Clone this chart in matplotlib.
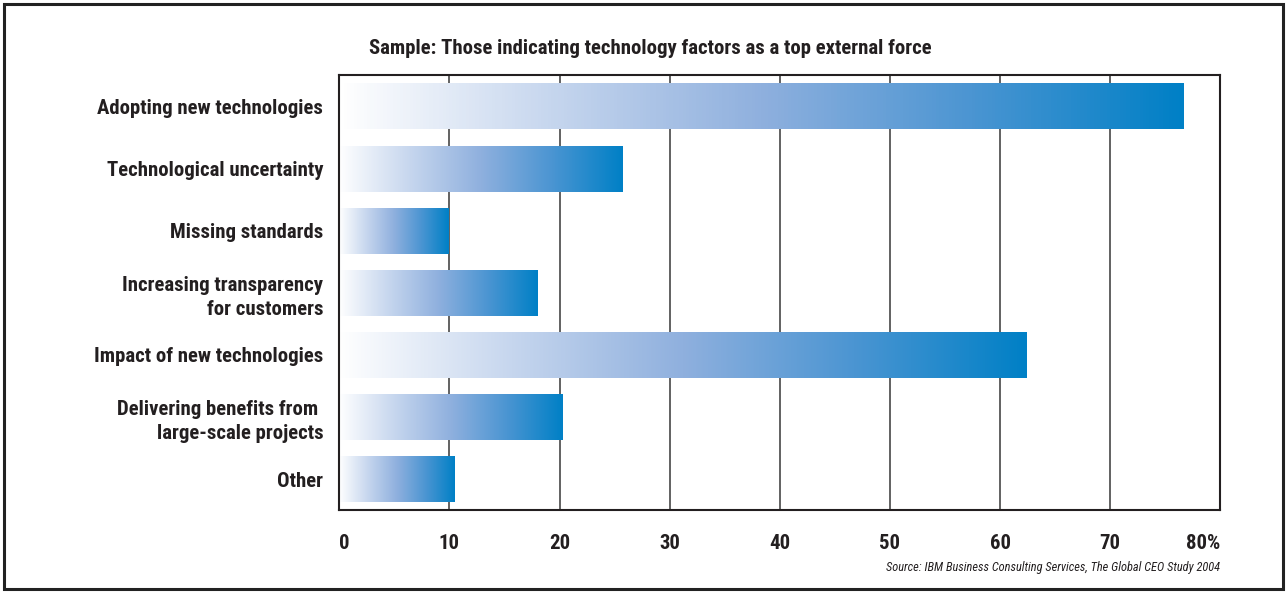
import matplotlib
matplotlib.use("Agg")
import matplotlib.pyplot as plt
import numpy as np
from matplotlib import font_manager
from matplotlib.font_manager import FontProperties
from matplotlib.colors import LinearSegmentedColormap
from matplotlib.patches import Rectangle

categories = [
    "Adopting new technologies",
    "Technological uncertainty",
    "Missing standards",
    "Increasing transparency\nfor customers",
    "Impact of new technologies",
    "Delivering benefits from \nlarge-scale projects",
    "Other",
]
values = [76.7, 25.7, 9.9, 18.0, 62.4, 20.3, 10.5]
x_ticks = [0, 10, 20, 30, 40, 50, 60, 70, 80]
x_tick_labels = ["0", "10", "20", "30", "40", "50", "60", "70", "80%"]
title = "Sample: Those indicating technology factors as a top external force"
source = "Source: IBM Business Consulting Services, The Global CEO Study 2004"


def pick_font(want_bold, want_italic):
    """Prefer a narrow/condensed sans face; fall back to Liberation Sans."""
    best = None
    for f in font_manager.fontManager.ttflist:
        name = f.name
        path = f.fname.lower()
        narrow = ("narrow" in name.lower() or "condensed" in name.lower()
                  or "condensed" in str(f.stretch) or "narrow" in path or "condensed" in path)
        if not narrow:
            continue
        if "semi" in path or "extra" in path or "ultra" in path:
            continue
        is_bold = (f.weight in ("bold", 700) or (isinstance(f.weight, int) and f.weight == 700))
        is_italic = f.style in ("italic", "oblique")
        if is_bold != want_bold or is_italic != want_italic:
            continue
        rank = 0 if "Liberation" in name else (1 if "Roboto" in name else (2 if "DejaVu" in name else 3))
        if best is None or rank < best[0]:
            best = (rank, f.fname)
    if best:
        return FontProperties(fname=best[1])
    return FontProperties(family="Liberation Sans",
                          weight="bold" if want_bold else "normal",
                          style="italic" if want_italic else "normal")


bold_fp = pick_font(True, False)
ital_fp = pick_font(False, True)

W, H = 1287, 592
fig = plt.figure(figsize=(W / 100, H / 100), dpi=100)
fig.patch.set_facecolor("white")
renderer = fig.canvas.get_renderer()


def fit_size(fp, text, target_px):
    p = fp.copy()
    p.set_size(10)
    t = fig.text(0, 0, text, fontproperties=p)
    w = t.get_window_extent(renderer).width
    t.remove()
    return 10 * target_px / w


label_size = fit_size(bold_fp, "Adopting new technologies", 226)
src_size = fit_size(ital_fp, source, 335)
bfp = bold_fp.copy(); bfp.set_size(label_size)
ifp = ital_fp.copy(); ifp.set_size(src_size)

# outer frame
fig.patches.append(Rectangle((4 / W, 3 / H), 1279 / W, 585 / H, transform=fig.transFigure,
                             fill=False, edgecolor="#222222", linewidth=2.2))

ax = fig.add_axes([339.3 / W, 1 - 510.3 / H, 881 / W, 435 / H])

cmap = LinearSegmentedColormap.from_list(
    "bar_blue",
    [(0.0, "#ffffff"), (0.25, "#c6d6ee"), (0.5, "#8fb0de"), (0.75, "#4b95d2"), (1.0, "#0080c6")],
)
grad = np.linspace(0, 1, 256).reshape(1, -1)

bar_h = 0.74
y_pos = np.arange(len(categories))
bars = ax.barh(y_pos, values, height=bar_h, color="none", edgecolor="none", zorder=3)
for rect in bars:
    x0, y0 = rect.get_x(), rect.get_y()
    ax.imshow(grad, cmap=cmap, aspect="auto", interpolation="bilinear",
              extent=(x0, x0 + rect.get_width(), y0 + rect.get_height(), y0), zorder=2)

ax.set_xlim(0, 80)
ax.set_ylim(len(categories) - 0.5, -0.5)

ax.set_xticks(x_ticks)
ax.set_xticklabels(x_tick_labels, fontproperties=bfp, color="#231f20")
ticklabels = ax.get_xticklabels()
ticklabels[0].set_horizontalalignment("left")
ticklabels[-1].set_horizontalalignment("right")
ax.tick_params(axis="x", length=0, pad=17)

ax.set_yticks(y_pos)
ax.set_yticklabels(categories, fontproperties=bfp, color="#231f20", linespacing=1.35)
ax.tick_params(axis="y", length=0, pad=11.5)

ax.grid(axis="x", color="#555555", linewidth=1.3, zorder=0)
ax.set_axisbelow(True)
for s in ax.spines.values():
    s.set_color("#231f20")
    s.set_linewidth(1.5)

fig.text(369 / W, 1 - 48 / H, title, fontproperties=bfp,
         color="#231f20", ha="left", va="center")
fig.text(1220 / W, 1 - 567 / H, source, fontproperties=ifp,
         color="#231f20", ha="right", va="center")

fig.savefig("out.png", dpi=100, facecolor="white")
